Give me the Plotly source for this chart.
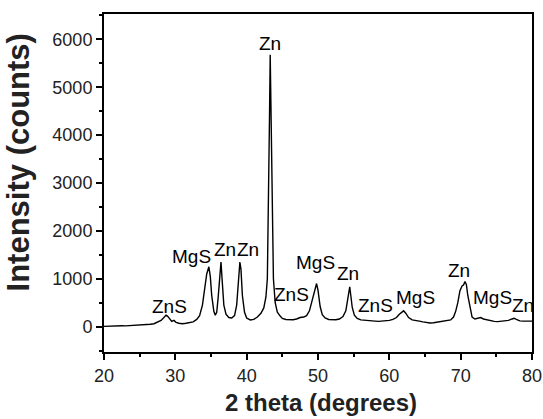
import plotly.graph_objects as go

two_theta = [20.0, 20.5, 21.0, 21.5, 22.0, 22.5, 23.0, 23.5, 24.0, 24.5, 25.0, 25.5, 26.0, 26.5, 27.0, 27.5,
             28.0, 28.4, 28.7, 28.9, 29.2, 29.5, 29.8, 30.1, 30.5, 31.0, 31.5, 32.0, 32.5, 33.0, 33.4, 33.8,
             34.1, 34.4, 34.7, 34.9, 35.1, 35.4, 35.6, 35.8, 36.0, 36.2, 36.4, 36.55, 36.8, 37.1, 37.5, 37.9,
             38.3, 38.6, 38.85, 39.05, 39.2, 39.4, 39.7, 40.0, 40.5, 41.0, 41.5, 42.0, 42.4, 42.7, 42.9, 43.05,
             43.2, 43.3, 43.4, 43.55, 43.75, 44.0, 44.3, 44.7, 45.0, 45.5, 46.0, 46.5, 47.0, 47.5, 48.0, 48.4,
             48.8, 49.1, 49.4, 49.6, 49.8, 50.0, 50.3, 50.6, 51.0, 51.5, 52.0, 52.5, 53.0, 53.5, 53.9, 54.2,
             54.45, 54.6, 54.8, 55.1, 55.5, 56.0, 56.5, 57.0, 57.5, 58.0, 58.5, 59.0, 59.5, 60.0, 60.5, 61.0,
             61.4, 61.8, 62.0, 62.3, 62.7, 63.2, 63.7, 64.2, 64.7, 65.2, 65.7, 66.2, 66.7, 67.2, 67.7, 68.2,
             68.6, 69.0, 69.3, 69.6, 69.9, 70.2, 70.4, 70.6, 70.8, 71.0, 71.3, 71.6, 72.0, 72.4, 72.8, 73.2,
             73.7, 74.2, 74.7, 75.2, 75.7, 76.2, 76.7, 77.2, 77.5, 77.8, 78.3, 78.8, 79.3, 80.0]
intensity = [5, 10, 8, 15, 12, 18, 15, 20, 18, 25, 22, 30, 35, 50, 60, 90,
             130, 190, 240, 220, 170, 110, 130, 90, 70, 60, 70, 85, 100, 150, 230, 450,
             800, 1100, 1250, 1050, 650, 320, 240, 300, 600, 1100, 1350, 1000, 450, 260, 190, 180,
             230, 450, 900, 1350, 1200, 650, 300, 180, 140, 150, 200, 280, 390, 620, 1000, 2370,
             4360, 5680, 4360, 2370, 1000, 500, 300, 220, 170, 150, 140, 145, 160, 190, 200, 230,
             330, 500, 700, 820, 900, 760, 420, 250, 180, 150, 140, 145, 160, 210, 330, 600,
             830, 650, 400, 240, 170, 140, 130, 120, 125, 115, 110, 115, 120, 130, 150, 190,
             260, 320, 330, 280, 190, 140, 120, 115, 100, 80, 75, 80, 90, 100, 110, 120,
             140, 200, 320, 500, 750, 850, 870, 940, 880, 650, 380, 200, 160, 170, 190, 160,
             140, 120, 110, 105, 110, 120, 130, 160, 175, 150, 120, 115, 120, 115]

peak_labels = ["ZnS", "MgS", "Zn", "Zn", "Zn", "ZnS", "MgS", "Zn", "ZnS", "MgS", "Zn", "MgS", "Zn"]
label_x = [29.2, 32.2, 36.9, 40.2, 43.3, 46.35, 49.65, 54.2, 58.1, 63.7, 69.7, 74.45, 78.7]
label_y = [430, 1475, 1620, 1620, 5910, 680, 1340, 1100, 450, 607, 1170, 607, 450]

FONT = "Arial, Liberation Sans, sans-serif"

fig = go.Figure()
fig.add_trace(go.Scatter(x=two_theta, y=intensity, mode="lines",
                         line=dict(color="black", width=1.4), showlegend=False))

for t, lx, ly in zip(peak_labels, label_x, label_y):
    fig.add_annotation(x=lx, y=ly, text=t, showarrow=False, xanchor="center", yanchor="middle",
                       font=dict(family=FONT, size=19, color="black"))

fig.add_annotation(x=-0.2, y=0.562, xref="paper", yref="paper", text="<b>Intensity (counts)</b>",
                   textangle=-90, showarrow=False, xanchor="center", yanchor="middle",
                   font=dict(family=FONT, size=31, color="#222"))
fig.add_annotation(x=0.507, y=-0.195, xref="paper", yref="paper", text="<b>2 theta (degrees)</b>",
                   showarrow=False, xanchor="center", yanchor="bottom",
                   font=dict(family=FONT, size=24, color="#222"))

axis_common = dict(showline=True, linecolor="black", linewidth=2, mirror=True, showgrid=False,
                   zeroline=False, ticks="outside", ticklen=6, tickwidth=1.5, tickcolor="black",
                   automargin=False, tickfont=dict(family=FONT, size=18, color="#222"))

fig.update_xaxes(range=[20, 80], dtick=10, tick0=20,
                 minor=dict(dtick=5, ticks="outside", ticklen=3, tickwidth=1.5, tickcolor="black"),
                 **axis_common)
fig.update_yaxes(range=[-530, 6530], dtick=1000, tick0=0,
                 minor=dict(dtick=500, ticks="outside", ticklen=3, tickwidth=1.5, tickcolor="black"),
                 **axis_common)

fig.update_layout(width=543, height=419, margin=dict(l=104, r=11, t=14, b=67),
                  plot_bgcolor="white", paper_bgcolor="white")

fig.write_html("out.html")
